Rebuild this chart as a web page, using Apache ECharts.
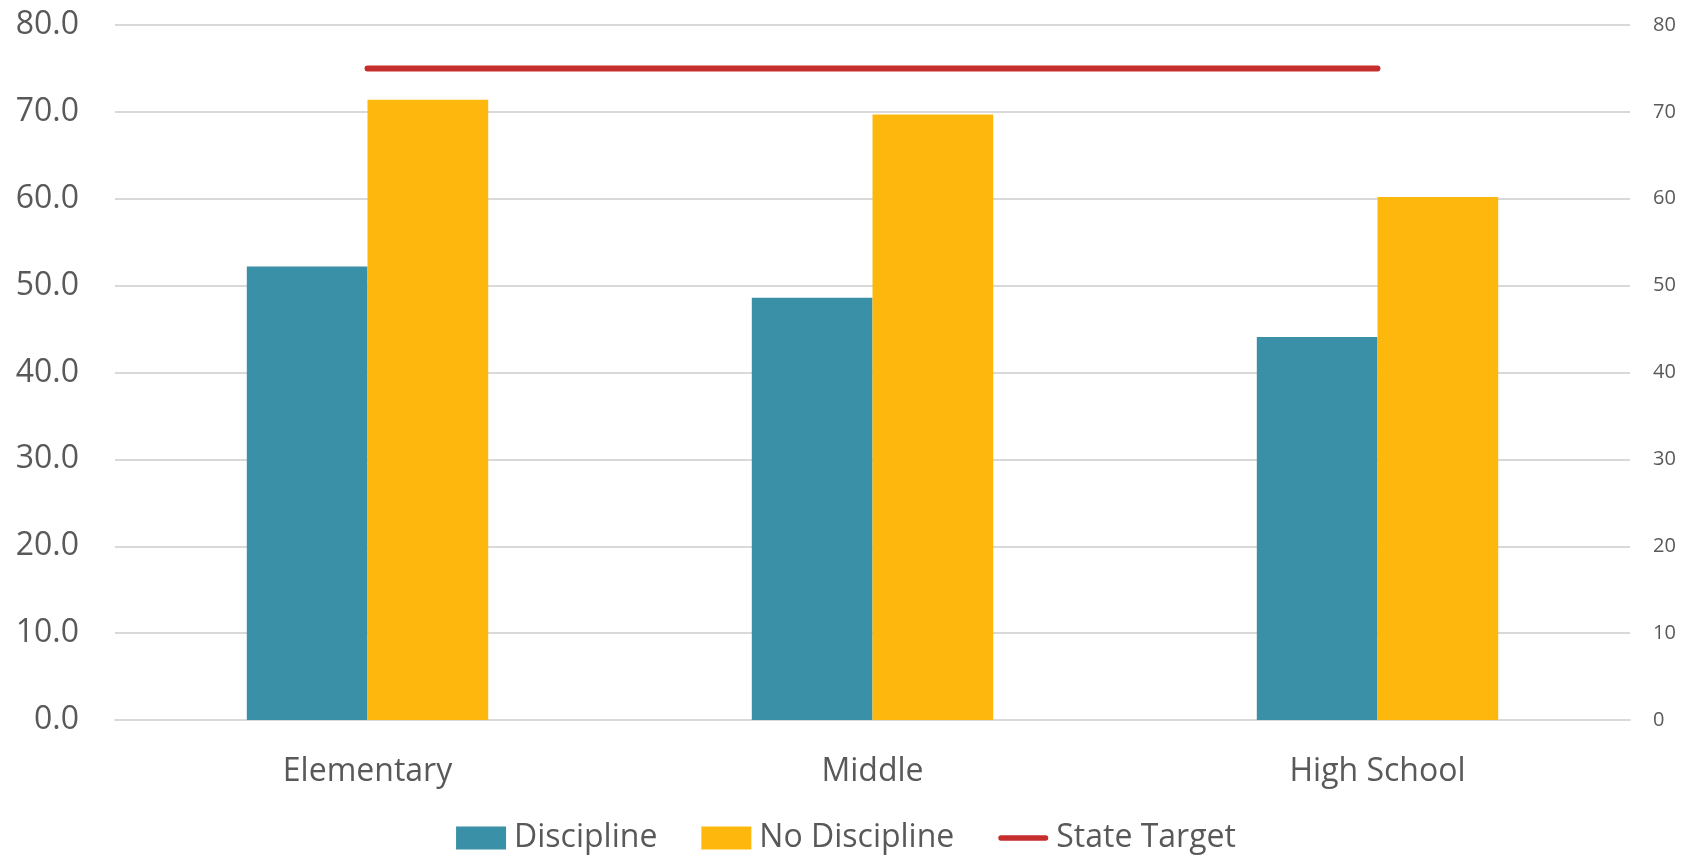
<!DOCTYPE html>
<html>
<head>
<meta charset="utf-8">
<script src="https://cdn.jsdelivr.net/npm/echarts@6/dist/echarts.min.js"></script>
<style>
  html, body { margin: 0; padding: 0; background: #fff; }
  #chart { width: 1692px; height: 857px; }
</style>
</head>
<body>
<div id="chart"></div>
<script>
// School levels and rates by discipline status
const categories = ['Elementary', 'Middle', 'High School'];
const discipline = [52.2, 48.6, 44.1];
const noDiscipline = [71.4, 69.7, 60.2];
const stateTarget = [75, 75, 75];

const textColor = '#595959';
const gridColor = '#D9D9D9';
const targetColor = '#C62E2E';
const font = '"Open Sans", sans-serif';

// rounded thick stroke used as the legend key of the target line
const lineKey = 'path://M3,0 H53 A3,3 0 0 1 53,6 H3 A3,3 0 0 1 3,0 Z';

const chart = echarts.init(document.getElementById('chart'));
chart.setOption({
  backgroundColor: '#ffffff',
  animation: false,
  grid: { left: 115, right: 62, top: 25, bottom: 137 },
  legend: {
    top: 817,
    left: 'center',
    itemWidth: 50,
    itemHeight: 23,
    itemGap: 44,
    symbolKeepAspect: true,
    textStyle: { color: textColor, fontSize: 32, fontFamily: font, padding: [0, 0, 0, 3] },
    data: [
      { name: 'Discipline', icon: 'rect' },
      { name: 'No Discipline', icon: 'rect' },
      { name: 'State Target', icon: lineKey, itemStyle: { color: targetColor } }
    ]
  },
  xAxis: {
    type: 'category',
    data: categories,
    axisLine: { lineStyle: { color: gridColor, width: 2 } },
    axisTick: { show: false },
    axisLabel: { color: textColor, fontSize: 32, fontFamily: font, margin: 36 }
  },
  yAxis: [
    {
      type: 'value', min: 0, max: 80, interval: 10,
      axisLine: { show: false }, axisTick: { show: false },
      splitLine: { lineStyle: { color: gridColor, width: 2 } },
      axisLabel: {
        color: textColor, fontSize: 32, fontFamily: font, margin: 36,
        formatter: v => v.toFixed(1)
      }
    },
    {
      type: 'value', min: 0, max: 80, interval: 10, position: 'right',
      axisLine: { show: false }, axisTick: { show: false },
      splitLine: { show: false },
      axisLabel: { color: textColor, fontSize: 20, fontFamily: font, margin: 23 }
    }
  ],
  series: [
    {
      name: 'Discipline', type: 'bar', data: discipline,
      barWidth: '23.9%', barGap: '0%',
      itemStyle: { color: '#3A91A7' }
    },
    {
      name: 'No Discipline', type: 'bar', data: noDiscipline,
      barWidth: '23.9%', barGap: '0%',
      itemStyle: { color: '#FEB70D' }
    },
    {
      name: 'State Target', type: 'line', yAxisIndex: 1, data: stateTarget,
      symbol: 'none',
      lineStyle: { color: targetColor, width: 6, cap: 'round' },
      itemStyle: { color: targetColor }
    }
  ]
});
</script>
</body>
</html>
